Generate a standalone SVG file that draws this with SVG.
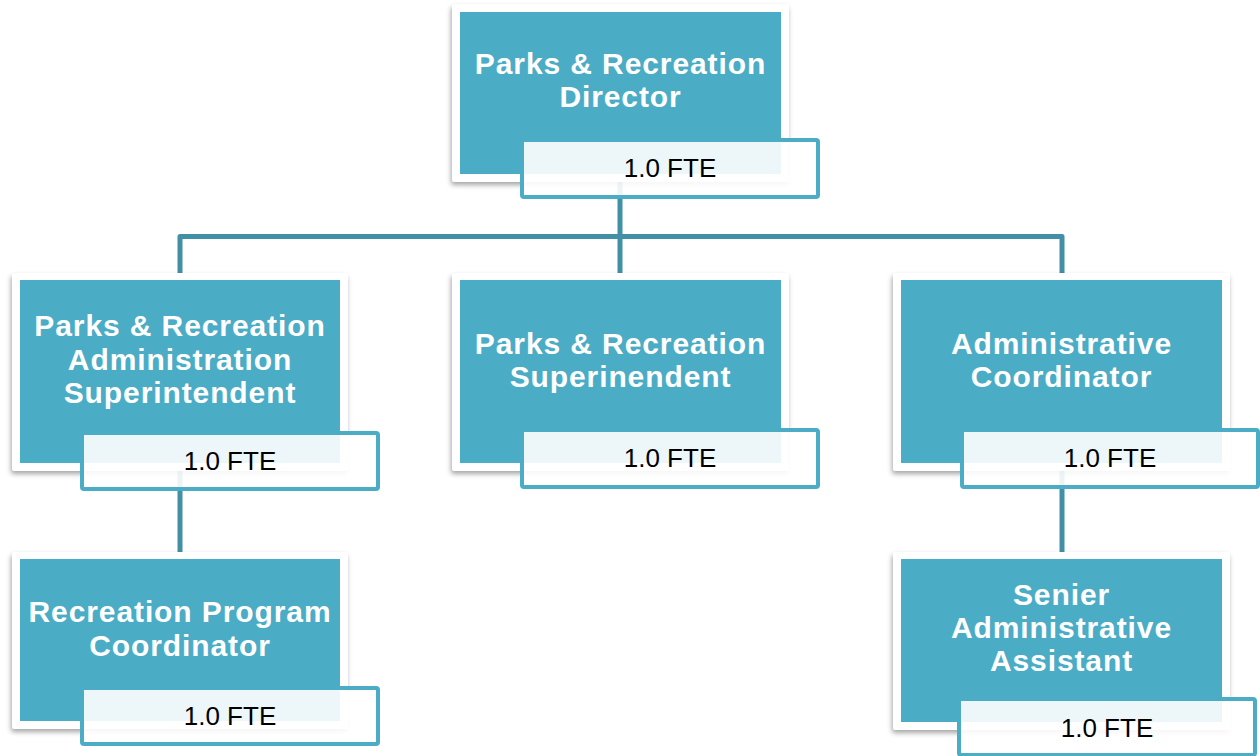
<svg xmlns="http://www.w3.org/2000/svg" width="1260" height="756" viewBox="0 0 1260 756">
<defs>
<filter id="sh" x="-10%" y="-10%" width="120%" height="125%">
<feDropShadow dx="-1" dy="3" stdDeviation="2.5" flood-color="#000" flood-opacity="0.35"/>
</filter>
<style>
.frame{fill:#fff;filter:url(#sh)}
.box{fill:#4BACC6}
.fte{fill:#fff;fill-opacity:0.9;stroke:#4BACC6;stroke-width:4}
.t{font-family:"Liberation Sans",Arial,sans-serif;font-weight:bold;font-size:30px;fill:#fff;text-anchor:middle;letter-spacing:0.9px}
.f{font-family:"Liberation Sans",Arial,sans-serif;font-size:26px;fill:#000;text-anchor:middle}
.c{fill:none;stroke:#4190A5;stroke-width:5;stroke-linejoin:round}
</style>
</defs>
<rect width="1260" height="756" fill="#fff"/>
<g id="connectors">
<path class="c" d="M620,176 V280"/>
<path class="c" d="M180,280 V236.5 H1062 V280" stroke="#3E8A9E"/>
<path class="c" d="M180,463 V556"/>
<path class="c" d="M1062,463 V556"/>
</g>
<g id="director">
<rect class="frame" x="452" y="4" width="337" height="178" rx="3"/>
<rect class="box" x="460" y="12" width="321" height="162"/>
<text class="t" x="620.5" y="74">Parks &amp; Recreation</text>
<text class="t" x="620.5" y="107">Director</text>
<rect class="fte" x="522" y="140" width="296" height="57" rx="2"/>
<text class="f" x="670" y="177">1.0 FTE</text>
</g>
<g id="admin-superintendent">
<rect class="frame" x="12" y="273" width="336" height="198" rx="3"/>
<rect class="box" x="20" y="280" width="320" height="183"/>
<text class="t" x="180" y="336">Parks &amp; Recreation</text>
<text class="t" x="180" y="370">Administration</text>
<text class="t" x="180" y="403">Superintendent</text>
<rect class="fte" x="82" y="433" width="296" height="56" rx="2"/>
<text class="f" x="230" y="470">1.0 FTE</text>
</g>
<g id="superintendent">
<rect class="frame" x="452" y="273" width="337" height="198" rx="3"/>
<rect class="box" x="460" y="280" width="321" height="183"/>
<text class="t" x="620.5" y="353.5">Parks &amp; Recreation</text>
<text class="t" x="620.5" y="387">Superinendent</text>
<rect class="fte" x="522" y="430" width="296" height="57" rx="2"/>
<text class="f" x="670" y="467">1.0 FTE</text>
</g>
<g id="admin-coordinator">
<rect class="frame" x="893" y="273" width="337" height="198" rx="3"/>
<rect class="box" x="901" y="280" width="321" height="183"/>
<text class="t" x="1061.5" y="353.5">Administrative</text>
<text class="t" x="1061.5" y="387">Coordinator</text>
<rect class="fte" x="962" y="430" width="296" height="57" rx="2"/>
<text class="f" x="1110" y="467">1.0 FTE</text>
</g>
<g id="program-coordinator">
<rect class="frame" x="12" y="552" width="336" height="177" rx="3"/>
<rect class="box" x="20" y="559" width="320" height="162"/>
<text class="t" x="180" y="622">Recreation Program</text>
<text class="t" x="180" y="656">Coordinator</text>
<rect class="fte" x="82" y="688" width="296" height="56" rx="2"/>
<text class="f" x="230" y="725">1.0 FTE</text>
</g>
<g id="senior-admin-assistant">
<rect class="frame" x="893" y="552" width="337" height="178" rx="3"/>
<rect class="box" x="901" y="559" width="321" height="163"/>
<text class="t" x="1061.5" y="605">Senier</text>
<text class="t" x="1061.5" y="638">Administrative</text>
<text class="t" x="1061.5" y="671">Assistant</text>
<rect class="fte" x="959" y="699" width="296" height="56" rx="2"/>
<text class="f" x="1107" y="737">1.0 FTE</text>
</g>
</svg>
